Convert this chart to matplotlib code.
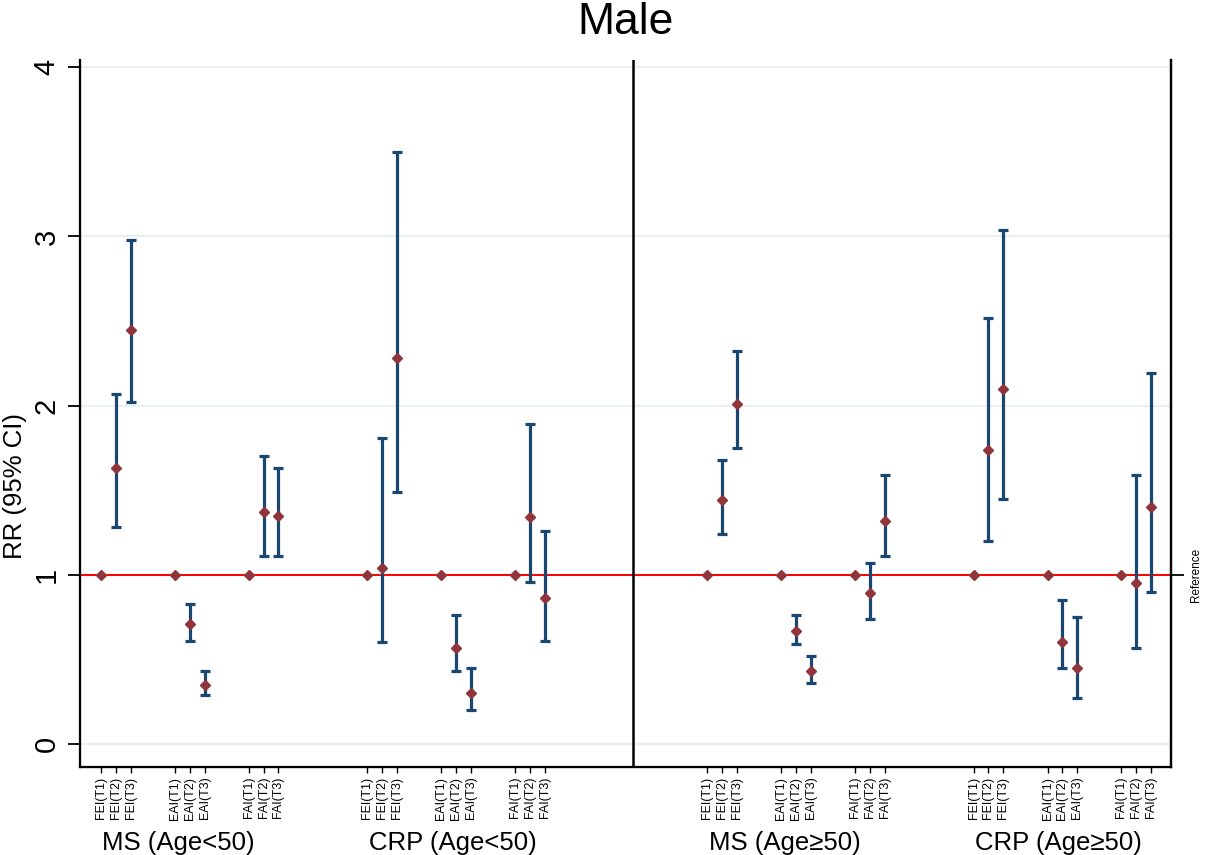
import matplotlib
matplotlib.use("Agg")
import matplotlib.pyplot as plt
import matplotlib.transforms as mtransforms

plt.rcParams['font.family'] = ['Liberation Sans', 'DejaVu Sans']

# ---------------- data ----------------
groups = ["MS (Age<50)", "CRP (Age<50)", "MS (Age\u226550)", "CRP (Age\u226550)"]
indices = ["FEI", "EAI", "FAI"]
tertiles = ["T1", "T2", "T3"]

# RR per group, order: FEI T1-T3, EAI T1-T3, FAI T1-T3
rr_ms_lt50 = [1.00, 1.63, 2.45, 1.00, 0.71, 0.35, 1.00, 1.37, 1.35]
lo_ms_lt50 = [1.00, 1.28, 2.02, 1.00, 0.61, 0.29, 1.00, 1.11, 1.11]
hi_ms_lt50 = [1.00, 2.07, 2.98, 1.00, 0.83, 0.43, 1.00, 1.70, 1.63]

rr_crp_lt50 = [1.00, 1.04, 2.28, 1.00, 0.57, 0.30, 1.00, 1.34, 0.86]
lo_crp_lt50 = [1.00, 0.60, 1.49, 1.00, 0.43, 0.20, 1.00, 0.96, 0.61]
hi_crp_lt50 = [1.00, 1.81, 3.50, 1.00, 0.76, 0.45, 1.00, 1.89, 1.26]

rr_ms_ge50 = [1.00, 1.44, 2.01, 1.00, 0.67, 0.43, 1.00, 0.89, 1.32]
lo_ms_ge50 = [1.00, 1.24, 1.75, 1.00, 0.59, 0.36, 1.00, 0.74, 1.11]
hi_ms_ge50 = [1.00, 1.68, 2.32, 1.00, 0.76, 0.52, 1.00, 1.07, 1.59]

rr_crp_ge50 = [1.00, 1.74, 2.10, 1.00, 0.60, 0.45, 1.00, 0.95, 1.40]
lo_crp_ge50 = [1.00, 1.20, 1.45, 1.00, 0.45, 0.27, 1.00, 0.57, 0.90]
hi_crp_ge50 = [1.00, 2.52, 3.04, 1.00, 0.85, 0.75, 1.00, 1.59, 2.19]

rr_all = [rr_ms_lt50, rr_crp_lt50, rr_ms_ge50, rr_crp_ge50]
lo_all = [lo_ms_lt50, lo_crp_lt50, lo_ms_ge50, lo_crp_ge50]
hi_all = [hi_ms_lt50, hi_crp_lt50, hi_ms_ge50, hi_crp_ge50]

y_ticks = [0, 1, 2, 3, 4]

# ---------------- layout ----------------
group_start = [0, 18, 41, 59]   # x slot where each group begins
sub_step = 5                     # slots between FEI / EAI / FAI blocks
divider_x = 36

NAVY = "#1a476f"
CRAN = "#90353b"

fig = plt.figure(figsize=(12.05, 8.55), dpi=100)
ax = fig.add_axes([80/1205, 88/855, (1171-80)/1205, (767-60)/855])

xs_all, labels_all = [], []
for g in range(len(groups)):
    xs = []
    for i, ind in enumerate(indices):
        for t, tt in enumerate(tertiles):
            xs.append(group_start[g] + i*sub_step + t)
            labels_all.append(f"{ind}({tt})")
    xs_all.extend(xs)
    rr, lo, hi = rr_all[g], lo_all[g], hi_all[g]
    ex = [x for x, l, h in zip(xs, lo, hi) if h != l]
    ey = [r for r, l, h in zip(rr, lo, hi) if h != l]
    el = [r - l for r, l, h in zip(rr, lo, hi) if h != l]
    eh = [h - r for r, l, h in zip(rr, lo, hi) if h != l]
    ax.errorbar(ex, ey, yerr=[el, eh], fmt='none', ecolor=NAVY,
                elinewidth=2.3, capsize=3.3, capthick=2.3, zorder=3)
    ax.plot(xs, rr, linestyle='none', marker='D', markersize=5.6,
            color=CRAN, markeredgecolor=CRAN, zorder=4)

# grid lines
for yv in y_ticks:
    ax.axhline(yv, color="#e9f0f2", linewidth=1.6, zorder=0)
ax.axhline(1, color="#ff0000", linewidth=1.4, zorder=2)
ax.axvline(divider_x, color="black", linewidth=1.8, zorder=2)

ax.set_xlim(-1.42, 72.35)
ax.set_ylim(-0.136, 4.043)

ax.set_yticks(y_ticks)
ax.set_yticklabels([str(v) for v in y_ticks], rotation=90, va='center',
                   fontsize=21)
ax.tick_params(axis='y', length=9, width=1.3, pad=5)

ax.set_xticks(xs_all)
ax.set_xticklabels(labels_all, rotation=90, fontsize=9, va='top')
ax.tick_params(axis='x', length=4, width=1.0, pad=3)

for side in ['left', 'bottom', 'right']:
    ax.spines[side].set_linewidth(1.6)
ax.spines['top'].set_visible(False)

# right axis with "Reference"
ax2 = ax.twinx()
ax2.set_ylim(ax.get_ylim())
ax2.set_yticks([1])
ax2.set_yticklabels(["Reference"], rotation=90, va='center', fontsize=8.5)
ax2.tick_params(axis='y', length=9, width=1.3, pad=5)
ax2.spines['top'].set_visible(False)
ax2.spines['right'].set_linewidth(1.6)

# y-axis title (placed as in the reference, below the axes' middle)
fig.text(15/1205, 1 - 486/855, "RR (95% CI)", rotation=90,
         ha='center', va='center', fontsize=18.5)

# group labels
trans = mtransforms.blended_transform_factory(ax.transData, ax.transAxes)
for g, name in enumerate(groups):
    ax.text(group_start[g] + 0.1, -0.108, name, transform=trans,
            ha='left', va='center', fontsize=18.5)

fig.text((80 + 1171) / 2 / 1205, 1 - 22/855, "Male", ha='center',
         va='center', fontsize=32)

fig.savefig("out.png", dpi=100)
